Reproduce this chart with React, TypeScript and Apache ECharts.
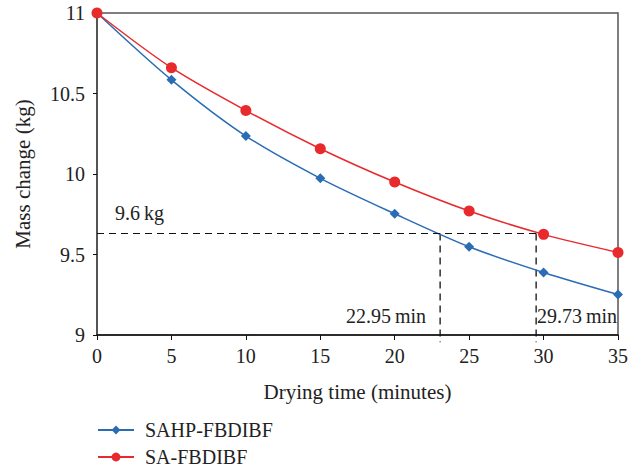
import React, { useEffect, useRef } from "react";
import * as echarts from "echarts";

const times = [0, 5, 10, 15, 20, 25, 30, 35];
const sahpValues = [11, 10.585, 10.236, 9.973, 9.753, 9.548, 9.388, 9.251];
const saValues = [11, 10.66, 10.394, 10.157, 9.95, 9.77, 9.625, 9.513];
const seriesNames = ["SAHP-FBDIBF", "SA-FBDIBF"];
const refMass = 9.63;
const refTimes = [23.05, 29.5];
const refLabels = ["9.6\u2009kg", "22.95\u2009min", "29.73\u2009min"];

const FONT = "'Liberation Serif', 'DejaVu Serif', serif";
const FS = 20;

export default function App() {
  const ref = useRef<HTMLDivElement>(null);
  useEffect(() => {
    const chart = echarts.init(ref.current!, null, { renderer: "svg" });
    const dashStyle = { stroke: "#111", lineDash: [7, 5], lineWidth: 1.3 };
    chart.setOption({
      animation: false,
      backgroundColor: "#fff",
      textStyle: { fontFamily: FONT },
      grid: {
        left: 97,
        right: 21,
        top: 13,
        bottom: 135,
        show: true,
        borderColor: "#555",
        borderWidth: 1.5,
      },
      legend: {
        orient: "vertical",
        left: 97,
        top: 420,
        padding: 0,
        height: 60,
        itemWidth: 36,
        itemHeight: 11,
        itemGap: 7,
        textStyle: { fontFamily: FONT, fontSize: FS, color: "#222", padding: [0, 0, 0, 6] },
        data: seriesNames,
      },
      xAxis: {
        type: "value",
        min: 0,
        max: 35,
        interval: 5,
        name: "Drying time (minutes)",
        nameLocation: "middle",
        nameGap: 46,
        nameTextStyle: { fontFamily: FONT, fontSize: 21, color: "#222" },
        axisLine: { lineStyle: { color: "#111", width: 1.5 } },
        axisTick: { show: true, length: 5, lineStyle: { color: "#111" } },
        axisLabel: { fontFamily: FONT, fontSize: FS, color: "#222", margin: 11 },
        splitLine: { show: false },
      },
      yAxis: {
        type: "value",
        min: 9,
        max: 11,
        interval: 0.5,
        name: "Mass change (kg)",
        nameLocation: "middle",
        nameGap: 64,
        nameTextStyle: { fontFamily: FONT, fontSize: 21, color: "#222" },
        axisLine: { show: true, lineStyle: { color: "#555", width: 2 } },
        axisTick: { show: true, length: 4, lineStyle: { color: "#111" } },
        axisLabel: { fontFamily: FONT, fontSize: FS, color: "#222", margin: 12 },
        splitLine: { show: false },
      },
      series: [
        {
          name: seriesNames[0],
          type: "line",
          smooth: 0.3,
          symbol: "diamond",
          symbolSize: 10,
          color: "#2a6db5",
          lineStyle: { width: 1.5 },
          data: times.map((t, i) => [t, sahpValues[i]]),
          z: 3,
          markLine: {
            silent: true,
            symbol: "none",
            label: { show: false },
            lineStyle: { color: "#111", type: [7, 5] as any, width: 1.2 },
            data: [[{ coord: [0, refMass] }, { coord: [refTimes[1], refMass] }]],
          },
        },
        {
          name: seriesNames[1],
          type: "line",
          smooth: 0.3,
          symbol: "circle",
          symbolSize: 11,
          color: "#e82a2d",
          lineStyle: { width: 1.5 },
          data: times.map((t, i) => [t, saValues[i]]),
          z: 4,
          clip: false,
        },
      ],
    });
    const vlines = refTimes.map((t) => {
      const p1 = chart.convertToPixel({ gridIndex: 0 }, [t, refMass]) as number[];
      const p2 = chart.convertToPixel({ gridIndex: 0 }, [t, 8.955]) as number[];
      return {
        type: "line",
        z: 2,
        shape: { x1: p1[0], y1: p1[1], x2: p2[0], y2: p2[1] },
        style: dashStyle,
      };
    });
    chart.setOption({
      graphic: [
        ...vlines,
        {
          type: "text",
          left: 115,
          top: 203,
          style: { text: refLabels[0], fontFamily: FONT, fontSize: FS, fill: "#222" },
        },
        {
          type: "text",
          left: 346,
          top: 306,
          style: { text: refLabels[1], fontFamily: FONT, fontSize: FS, fill: "#222" },
        },
        {
          type: "text",
          left: 537,
          top: 306,
          style: { text: refLabels[2], fontFamily: FONT, fontSize: FS, fill: "#222" },
        },
      ],
    });
    return () => chart.dispose();
  }, []);
  return (
    <div
      ref={ref}
      style={{ position: "fixed", left: 0, top: 0, width: 639, height: 470 }}
    />
  );
}
